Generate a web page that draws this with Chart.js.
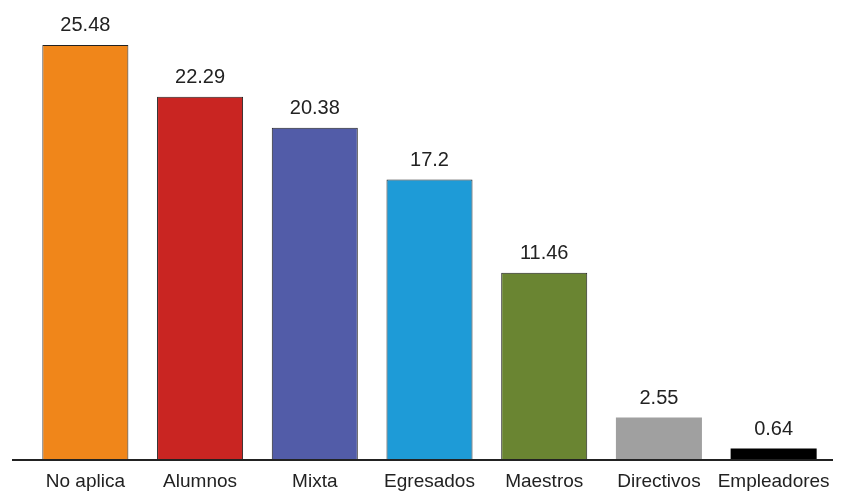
<!DOCTYPE html>
<html>
<head>
<meta charset="utf-8">
<script src="https://cdn.jsdelivr.net/npm/chart.js@4/dist/chart.umd.min.js"></script>
<style>
  html, body { margin: 0; padding: 0; background: #fff; }
  #wrap { width: 849px; height: 493px; position: relative; }
</style>
</head>
<body>
<div id="wrap"><canvas id="tipos"></canvas></div>
<script>
const categorias = ['No aplica', 'Alumnos', 'Mixta', 'Egresados', 'Maestros', 'Directivos', 'Empleadores'];
const porcentajes = [25.48, 22.29, 20.38, 17.2, 11.46, 2.55, 0.64];
const colores = ['#f0861a', '#c92522', '#525ca8', '#1e9bd7', '#6a8532', '#a0a0a0', '#000000'];
const bordes = [1, 1, 1, 1, 1, 0, 0];

// etiquetas de valor encima de cada barra + linea base
const extras = {
    id: 'extras',
    afterDatasetsDraw(chart) {
        const ctx = chart.ctx;
        const meta = chart.getDatasetMeta(0);
        ctx.save();
        ctx.fillStyle = '#222';
        ctx.font = '20px "Liberation Sans", Arial, sans-serif';
        ctx.textAlign = 'center';
        ctx.textBaseline = 'alphabetic';
        meta.data.forEach((bar, i) => {
            ctx.fillText(String(porcentajes[i]), bar.x, bar.y - 14);
        });
        const yBase = chart.chartArea.bottom + 1;
        ctx.strokeStyle = '#222';
        ctx.lineWidth = 2;
        ctx.beginPath();
        ctx.moveTo(12, yBase);
        ctx.lineTo(833, yBase);
        ctx.stroke();
        ctx.restore();
    }
};

const grafica = new Chart(document.getElementById('tipos').getContext('2d'), {
    type: 'bar',
    data: {
        labels: categorias,
        datasets: [
            {
                data: porcentajes,
                backgroundColor: colores,
                borderColor: '#222',
                borderWidth: bordes,
                borderSkipped: 'bottom',
                categoryPercentage: 0.75,
                barPercentage: 1,
            },
        ],
    },
    options: {
        responsive: true,
        maintainAspectRatio: false,
        animation: false,
        layout: { padding: { top: 30, left: 28, right: 18, bottom: 0 } },
        plugins: {
            legend: { display: false },
            tooltip: { enabled: false },
        },
        scales: {
            x: {
                grid: { display: false, drawTicks: false },
                border: { display: false },
                ticks: {
                    color: '#222',
                    padding: 11,
                    maxRotation: 0,
                    minRotation: 0,
                    autoSkip: false,
                    font: { family: '"Liberation Sans", Arial, sans-serif', size: 19 },
                },
                afterFit(scale) { scale.height = 34; },
            },
            y: {
                display: false,
                min: 0,
                max: 26.4,
            },
        },
    },
    plugins: [extras],
});
</script>
</body>
</html>
